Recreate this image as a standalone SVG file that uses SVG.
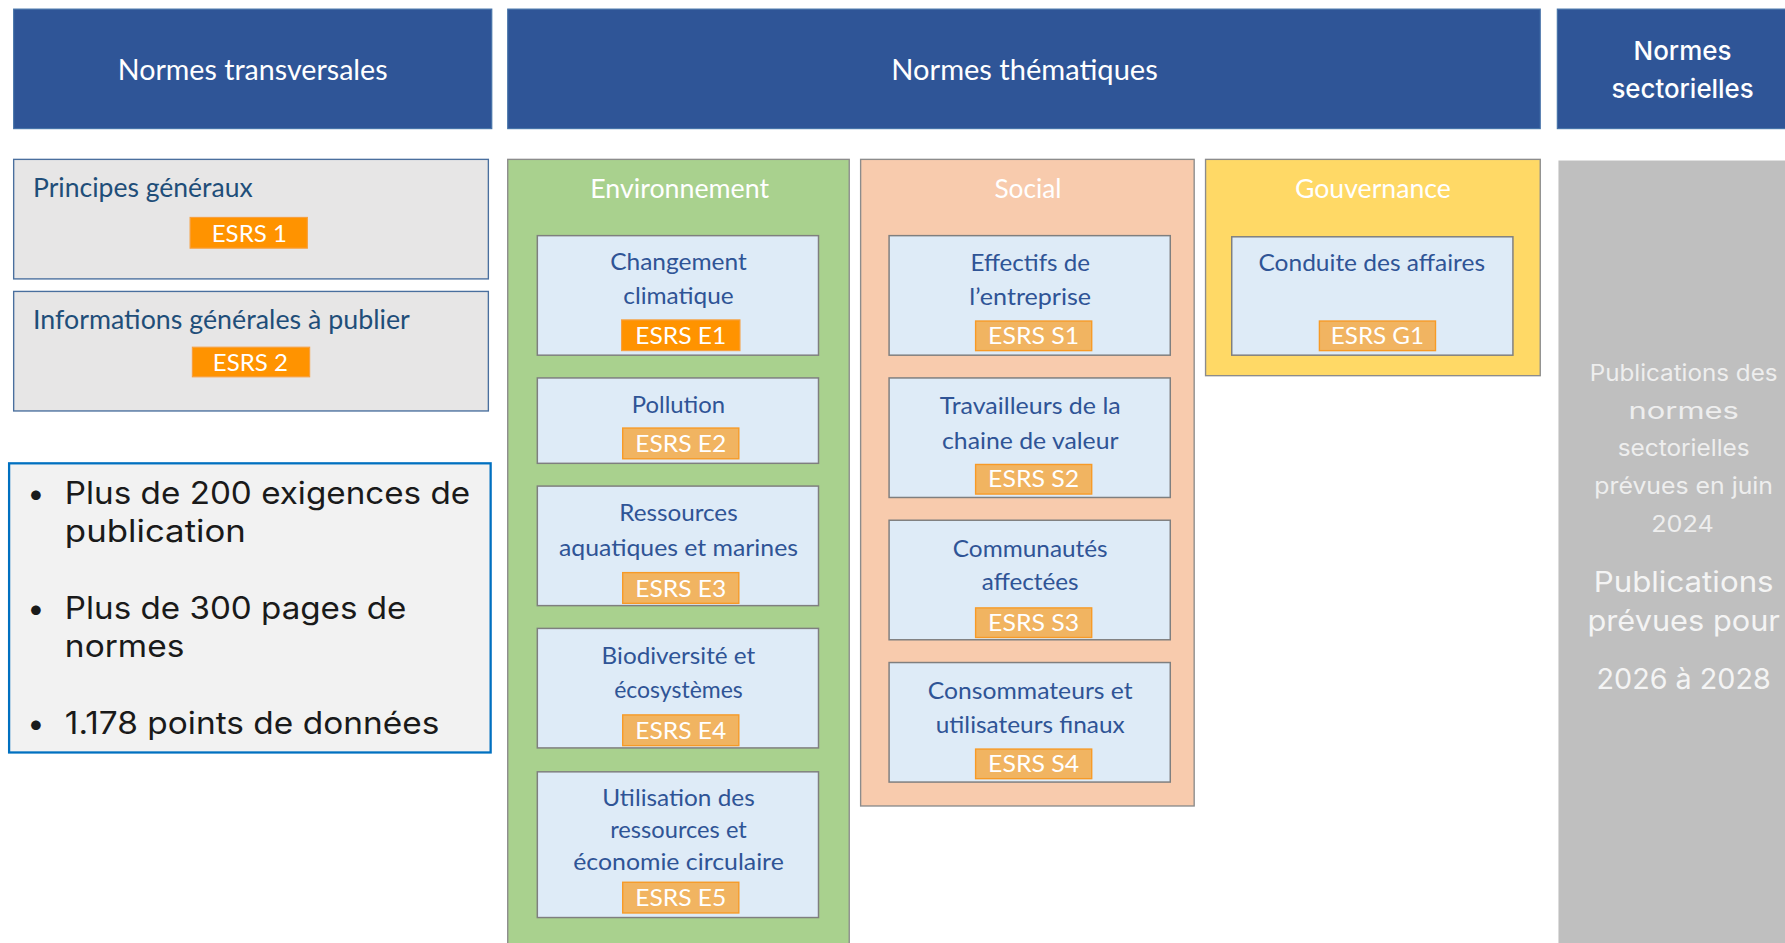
<svg xmlns="http://www.w3.org/2000/svg" width="1785" height="943" viewBox="0 0 1785 943">
<style>
.hdr{fill:#2F5597;stroke:#4472A8;stroke-width:1}
.ht{font-family:Lato,"Noto Sans",sans-serif;font-size:26px;fill:#FFFFFF;text-anchor:middle}
.hm{font-family:Inter,"DejaVu Sans",sans-serif;font-size:23px;font-weight:500;fill:#FFFFFF;text-anchor:middle}
.lbox{fill:#E7E6E6;stroke:#4A6F9E;stroke-width:1.2}
.lt{font-family:Lato,"Noto Sans",sans-serif;font-size:23px;fill:#1F4E79}
.col{stroke:#8C8C8C;stroke-width:1.2}
.ct{font-family:Lato,"Noto Sans",sans-serif;font-size:23px;fill:#FFFFFF;text-anchor:middle}
.ib{fill:#DEEBF7;stroke:#7F7F7F;stroke-width:1.3}
.it{font-family:Lato,"Noto Sans",sans-serif;font-size:20px;fill:#2F5496;text-anchor:middle}
.bd1{fill:#FF9300;stroke:#F7A040;stroke-width:1}
.bd2{fill:#F1B461;stroke:#F79A26;stroke-width:1.2}
.bt{font-family:Lato,"Noto Sans",sans-serif;font-size:21px;fill:#FFFFFF;text-anchor:middle}
.bl{font-family:Inter,"DejaVu Sans",sans-serif;font-size:27px;fill:#1A1A1A}
.gt{font-family:Inter,"DejaVu Sans",sans-serif;font-size:20px;fill:#EEEEEE;text-anchor:middle}
.gt2{font-family:Inter,"DejaVu Sans",sans-serif;font-size:25px;fill:#F4F4F4;text-anchor:middle}
</style>
<rect x="0" y="0" width="1785" height="943" fill="#FFFFFF"/>
<g transform="scale(1.13839)">
<g id="hdr-transversales">
<rect class="hdr" x="12" y="8" width="420" height="105"/>
<text class="ht" x="222" y="70" textLength="237" lengthAdjust="spacingAndGlyphs">Normes transversales</text>
</g>
<g id="hdr-thematiques">
<rect class="hdr" x="446" y="8" width="907" height="105"/>
<text class="ht" x="900" y="70" textLength="234" lengthAdjust="spacingAndGlyphs">Normes thématiques</text>
</g>
<g id="hdr-sectorielles">
<rect class="hdr" x="1368" y="8" width="201" height="105"/>
<text class="hm" x="1478" y="53" textLength="86" lengthAdjust="spacingAndGlyphs">Normes</text>
<text class="hm" x="1478" y="86" textLength="125" lengthAdjust="spacingAndGlyphs">sectorielles</text>
</g>
<g id="principes">
<rect class="lbox" x="12" y="140" width="417" height="105"/>
<text class="lt" x="29" y="173" textLength="193" lengthAdjust="spacingAndGlyphs">Principes généraux</text>
<rect class="bd1" x="167" y="191" width="103" height="27"/>
<text class="bt" x="219" y="213" textLength="66" lengthAdjust="spacingAndGlyphs">ESRS 1</text>
</g>
<g id="informations">
<rect class="lbox" x="12" y="256" width="417" height="105"/>
<text class="lt" x="29" y="289" textLength="331" lengthAdjust="spacingAndGlyphs">Informations générales à publier</text>
<rect class="bd1" x="169" y="305" width="103" height="26"/>
<text class="bt" x="220" y="326" textLength="66" lengthAdjust="spacingAndGlyphs">ESRS 2</text>
</g>
<g id="chiffres">
<rect x="8" y="407" width="423" height="254" fill="#F2F2F2" stroke="#0070C0" stroke-width="2"/>
<text class="bl" x="24" y="443">•</text>
<text class="bl" x="57" y="443" textLength="356" lengthAdjust="spacingAndGlyphs">Plus de 200 exigences de</text>
<text class="bl" x="57" y="476" textLength="159" lengthAdjust="spacingAndGlyphs">publication</text>
<text class="bl" x="24" y="544">•</text>
<text class="bl" x="57" y="544" textLength="300" lengthAdjust="spacingAndGlyphs">Plus de 300 pages de</text>
<text class="bl" x="57" y="577" textLength="105" lengthAdjust="spacingAndGlyphs">normes</text>
<text class="bl" x="24" y="645">•</text>
<text class="bl" x="57" y="645" textLength="329" lengthAdjust="spacingAndGlyphs">1.178 points de données</text>
</g>
<g id="environnement">
<rect class="col" x="446" y="140" width="300" height="700" fill="#A9D18E"/>
<text class="ct" x="597" y="174" textLength="157" lengthAdjust="spacingAndGlyphs">Environnement</text>
</g>
<g id="e1">
<rect class="ib" x="472" y="207" width="247" height="105"/>
<text class="it" x="596" y="237" textLength="120" lengthAdjust="spacingAndGlyphs">Changement</text>
<text class="it" x="596" y="267" textLength="97" lengthAdjust="spacingAndGlyphs">climatique</text>
<rect class="bd1" x="546" y="281" width="104" height="27"/>
<text class="bt" x="598" y="302" textLength="80" lengthAdjust="spacingAndGlyphs">ESRS E1</text>
</g>
<g id="e2">
<rect class="ib" x="472" y="332" width="247" height="75"/>
<text class="it" x="596" y="363" textLength="82" lengthAdjust="spacingAndGlyphs">Pollution</text>
<rect class="bd2" x="547" y="376" width="102" height="27"/>
<text class="bt" x="598" y="397" textLength="80" lengthAdjust="spacingAndGlyphs">ESRS E2</text>
</g>
<g id="e3">
<rect class="ib" x="472" y="427" width="247" height="105"/>
<text class="it" x="596" y="458" textLength="104" lengthAdjust="spacingAndGlyphs">Ressources</text>
<text class="it" x="596" y="488" textLength="210" lengthAdjust="spacingAndGlyphs">aquatiques et marines</text>
<rect class="bd2" x="547" y="503" width="102" height="27"/>
<text class="bt" x="598" y="524" textLength="80" lengthAdjust="spacingAndGlyphs">ESRS E3</text>
</g>
<g id="e4">
<rect class="ib" x="472" y="552" width="247" height="105"/>
<text class="it" x="596" y="583" textLength="135" lengthAdjust="spacingAndGlyphs">Biodiversité et</text>
<text class="it" x="596" y="613" textLength="113" lengthAdjust="spacingAndGlyphs">écosystèmes</text>
<rect class="bd2" x="547" y="628" width="102" height="27"/>
<text class="bt" x="598" y="649" textLength="80" lengthAdjust="spacingAndGlyphs">ESRS E4</text>
</g>
<g id="e5">
<rect class="ib" x="472" y="678" width="247" height="128"/>
<text class="it" x="596" y="708" textLength="134" lengthAdjust="spacingAndGlyphs">Utilisation des</text>
<text class="it" x="596" y="736" textLength="120" lengthAdjust="spacingAndGlyphs">ressources et</text>
<text class="it" x="596" y="764" textLength="185" lengthAdjust="spacingAndGlyphs">économie circulaire</text>
<rect class="bd2" x="547" y="775" width="102" height="27"/>
<text class="bt" x="598" y="796" textLength="80" lengthAdjust="spacingAndGlyphs">ESRS E5</text>
</g>
<g id="social">
<rect class="col" x="756" y="140" width="293" height="568" fill="#F8CBAD"/>
<text class="ct" x="903" y="174" textLength="59" lengthAdjust="spacingAndGlyphs">Social</text>
</g>
<g id="s1">
<rect class="ib" x="781" y="207" width="247" height="105"/>
<text class="it" x="905" y="238" textLength="105" lengthAdjust="spacingAndGlyphs">Effectifs de</text>
<text class="it" x="905" y="268" textLength="107" lengthAdjust="spacingAndGlyphs">l’entreprise</text>
<rect class="bd2" x="857" y="282" width="102" height="26"/>
<text class="bt" x="908" y="302" textLength="80" lengthAdjust="spacingAndGlyphs">ESRS S1</text>
</g>
<g id="s2">
<rect class="ib" x="781" y="332" width="247" height="105"/>
<text class="it" x="905" y="364" textLength="159" lengthAdjust="spacingAndGlyphs">Travailleurs de la</text>
<text class="it" x="905" y="394" textLength="155" lengthAdjust="spacingAndGlyphs">chaine de valeur</text>
<rect class="bd2" x="857" y="408" width="102" height="26"/>
<text class="bt" x="908" y="428" textLength="80" lengthAdjust="spacingAndGlyphs">ESRS S2</text>
</g>
<g id="s3">
<rect class="ib" x="781" y="457" width="247" height="105"/>
<text class="it" x="905" y="489" textLength="136" lengthAdjust="spacingAndGlyphs">Communautés</text>
<text class="it" x="905" y="518" textLength="85" lengthAdjust="spacingAndGlyphs">affectées</text>
<rect class="bd2" x="857" y="534" width="102" height="26"/>
<text class="bt" x="908" y="554" textLength="80" lengthAdjust="spacingAndGlyphs">ESRS S3</text>
</g>
<g id="s4">
<rect class="ib" x="781" y="582" width="247" height="105"/>
<text class="it" x="905" y="614" textLength="180" lengthAdjust="spacingAndGlyphs">Consommateurs et</text>
<text class="it" x="905" y="644" textLength="166" lengthAdjust="spacingAndGlyphs">utilisateurs finaux</text>
<rect class="bd2" x="857" y="658" width="102" height="26"/>
<text class="bt" x="908" y="678" textLength="80" lengthAdjust="spacingAndGlyphs">ESRS S4</text>
</g>
<g id="gouvernance">
<rect class="col" x="1059" y="140" width="294" height="190" fill="#FFD966"/>
<text class="ct" x="1206" y="174" textLength="137" lengthAdjust="spacingAndGlyphs">Gouvernance</text>
</g>
<g id="g1">
<rect class="ib" x="1082" y="208" width="247" height="104"/>
<text class="it" x="1205" y="238" textLength="199" lengthAdjust="spacingAndGlyphs">Conduite des affaires</text>
<rect class="bd2" x="1159" y="282" width="102" height="26"/>
<text class="bt" x="1210" y="302" textLength="82" lengthAdjust="spacingAndGlyphs">ESRS G1</text>
</g>
<g id="sectorielles">
<rect x="1369" y="141" width="205" height="700" fill="#BFBFBF"/>
<text class="gt" x="1479" y="335" textLength="165" lengthAdjust="spacingAndGlyphs">Publications des</text>
<text class="gt" x="1479" y="368" textLength="97" lengthAdjust="spacingAndGlyphs">normes</text>
<text class="gt" x="1479" y="401" textLength="116" lengthAdjust="spacingAndGlyphs">sectorielles</text>
<text class="gt" x="1479" y="434" textLength="157" lengthAdjust="spacingAndGlyphs">prévues en juin</text>
<text class="gt" x="1478" y="467" textLength="55" lengthAdjust="spacingAndGlyphs">2024</text>
<text class="gt2" x="1479" y="520" textLength="158" lengthAdjust="spacingAndGlyphs">Publications</text>
<text class="gt2" x="1479" y="554" textLength="169" lengthAdjust="spacingAndGlyphs">prévues pour</text>
<text class="gt2" x="1479" y="605" textLength="153" lengthAdjust="spacingAndGlyphs">2026 à 2028</text>
</g>
<g id="connectors"/>
</g>
</svg>
